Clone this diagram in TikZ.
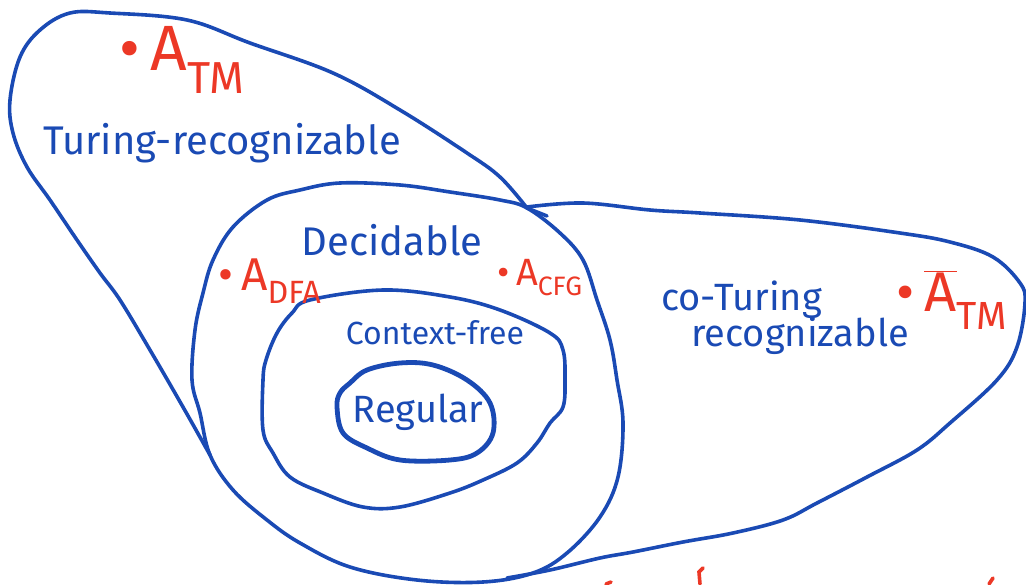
\documentclass[tikz,border=0pt]{standalone}
\usepackage{fontspec}
\setmainfont{Fira Sans}
\usepackage{tikz}
\usetikzlibrary{calc}
\definecolor{penblue}{RGB}{26,74,180}
\definecolor{penred}{RGB}{236,56,38}
\tikzset{
	blueline/.style={draw=penblue, line width=3.6pt, line cap=round, line join=round},
	redline/.style={draw=penred, line width=3.6pt, line cap=round},
	bluetxt/.style={text=penblue, inner sep=0pt},
	redtxt/.style={text=penred, inner sep=0pt}
}
\def\fsz#1{\fontsize{#1}{#1}\selectfont}
\def\setname#1#2{\textbullet\,#1\textsubscript{#2}}

\begin{document}
\begin{tikzpicture}[x=1pt, y=-1pt]
			%%%%% START %%%%%
			\useasboundingbox (0,0) rectangle (1026,584);
			
			% Turing-recognizable outline
			\draw[blueline] plot[smooth, tension=0.6] coordinates {(527,208) (500,177) (467,153) (400,110) (333,73) (250,43) (187,20) (110,13) (70,13) (40,30) (20,57) (10,100) (13,133) (27,167) (50,200) (77,240) (100,273) (120,300) (150,350) (183,407) (210,455)};
			
			% co-Turing-recognizable outline
			\draw[blueline] plot[smooth, tension=0.6] coordinates {(527,207) (583,203) (650,210) (700,213) (800,220) (900,233) (950,242) (993,257) (1020,283) (1025,303) (1017,347) (997,380) (950,423) (917,450) (867,477) (817,503) (783,520) (733,533) (683,542) (633,552) (600,558) (550,570) (507,578)};
			\draw[blueline] (527,208) -- (547,216);
			
			% decidable
			\draw[blueline] plot[smooth cycle, tension=0.6] coordinates {(527,208) (560,233) (583,260) (597,300) (610,340) (617,380) (623,423) (618,477) (600,517) (567,553) (533,573) (483,582) (417,580) (350,567) (300,543) (267,520) (233,490) (210,455) (200,413) (192,380) (195,330) (203,293) (213,260) (233,227) (267,200) (300,190) (340,183) (400,185) (450,192) (500,200)};
			
			% context-free
			\draw[blueline] plot[smooth cycle, tension=0.6] coordinates {(310,300) (383,290) (450,297) (500,310) (550,333) (563,350) (565,380) (563,407) (550,423) (537,443) (517,463) (483,480) (450,493) (400,507) (363,507) (323,493) (290,477) (273,453) (263,430) (263,380) (266,360) (277,333) (292,313)};
			
			% regular
			\draw[blueline, line width=4.8pt] plot[smooth cycle, tension=0.6] coordinates {(350,383) (367,370) (400,363) (433,365) (467,380) (490,403) (493,433) (477,453) (450,460) (400,460) (367,448) (343,433) (337,407) (340,393)};
			
			% labels
			\node[bluetxt, font=\fsz{40}] (turing) at (222,143) {Turing-recognizable};
			\node[bluetxt, font=\fsz{40}] (decidable) at (392,240) {Decidable};
			\node[bluetxt, font=\fsz{32}] (cfree) at (435,333) {Context-free};
			\node[bluetxt, font=\fsz{38}] (regular) at (418,412) {Regular};
			\node[bluetxt, font=\fsz{38}, align=left] (coturing) at (785,318) {co-Turing\\[-2pt]\hspace{30pt}recognizable};
			
			\node[redtxt, font=\fsz{64}] (atm) at (182,60) {\setname{A}{TM}};
			\node[redtxt, font=\fsz{46}] (adfa) at (270,281) {\setname{A}{DFA}};
			\node[redtxt, font=\fsz{38}] (acfg) at (540,278) {\setname{A}{CFG}};
			\node[redtxt, font=\fsz{56}] (atmbar) at (952,300) {\textbullet\,$\overline{\mbox{A}}$\textsubscript{TM}};
			
			% cut-off marks at the bottom edge
			\draw[redline] (700,584) -- (699,572) -- (703,568);
			\draw[redline] (606,584) -- (611,582);
			\draw[redline] (989,584) -- (993,578);
			
			%%%%% END %%%%%
\end{tikzpicture}
\end{document}
